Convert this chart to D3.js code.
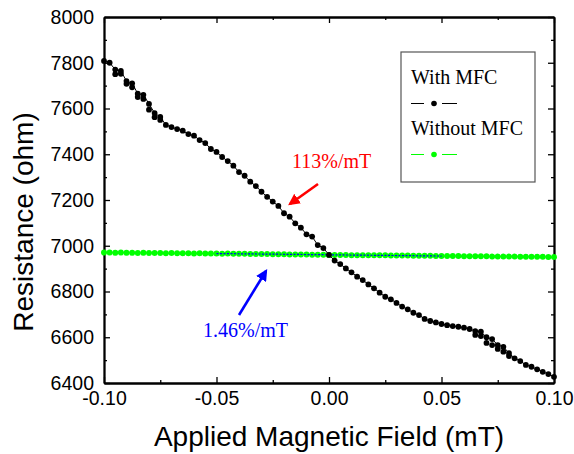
<!DOCTYPE html>
<html>
<head>
    <meta charset="utf-8">
    <title>Resistance vs Field</title>
    <script src="https://d3js.org/d3.v7.min.js"></script>
    <style>
        body { margin: 0; background: #fff; }
    </style>
</head>
<body>
    <script>
        // Field values (mT), one every 0.0025
        const fieldWith = [-0.1000, -0.0975, -0.0950, -0.0925, -0.0900, -0.0875, -0.0850, -0.0825, -0.0800, -0.0775,
            -0.0750, -0.0725, -0.0700, -0.0675, -0.0650, -0.0625, -0.0600, -0.0575, -0.0550, -0.0525,
            -0.0500, -0.0475, -0.0450, -0.0425, -0.0400, -0.0375, -0.0350, -0.0325, -0.0300, -0.0275,
            -0.0250, -0.0225, -0.0200, -0.0175, -0.0150, -0.0125, -0.0100, -0.0075, -0.0050, -0.0025,
            0.0000, 0.0025, 0.0050, 0.0075, 0.0100, 0.0125, 0.0150, 0.0175, 0.0200, 0.0225,
            0.0250, 0.0275, 0.0300, 0.0325, 0.0350, 0.0375, 0.0400, 0.0425, 0.0450, 0.0475,
            0.0500, 0.0525, 0.0550, 0.0575, 0.0600, 0.0625, 0.0650, 0.0675, 0.0700, 0.0725,
            0.0750, 0.0775, 0.0800, 0.0825, 0.0850, 0.0875, 0.0900, 0.0925, 0.0950, 0.0975, 0.1000];

        // Resistance with MFC (ohm)
        const resWith = [7808, 7800, 7770, 7764, 7720, 7710, 7665, 7660, 7620, 7580,
            7563, 7528, 7519, 7510, 7503, 7488, 7481, 7462, 7449, 7423,
            7410, 7388, 7370, 7350, 7322, 7306, 7280, 7261, 7236, 7214,
            7193, 7174, 7142, 7127, 7098, 7079, 7050, 7040, 7003, 6990,
            6960, 6935, 6920, 6901, 6884, 6865, 6850, 6831, 6814, 6795,
            6777, 6766, 6750, 6734, 6722, 6707, 6697, 6680, 6671, 6665,
            6658, 6653, 6649, 6646, 6642, 6636, 6627, 6624, 6600, 6592,
            6566, 6558, 6531, 6508, 6496, 6479, 6471, 6460, 6449, 6439, 6427];

        // Repeated readings (with MFC) where the sweep shows two points
        const fieldWithRepeat = [-0.0950, -0.0925, -0.0900, -0.0875, -0.0850, -0.0825, -0.0800, -0.0775, -0.0750,
            0.0650, 0.0675, 0.0700, 0.0725, 0.0750, 0.0775, 0.0800];
        const resWithRepeat = [7750, 7752, 7708, 7693, 7650, 7642, 7595, 7562, 7550,
            6610, 6605, 6575, 6566, 6549, 6537, 6518];

        // Resistance without MFC (ohm)
        const resWithout = [6970, 6970, 6969, 6970, 6969, 6969, 6968, 6969, 6968, 6968,
            6968, 6967, 6968, 6967, 6967, 6967, 6966, 6967, 6966, 6966,
            6966, 6965, 6966, 6965, 6965, 6965, 6964, 6964, 6964, 6964,
            6963, 6963, 6963, 6962, 6962, 6962, 6962, 6961, 6961, 6961,
            6960, 6960, 6960, 6960, 6959, 6959, 6959, 6958, 6958, 6958,
            6958, 6957, 6957, 6957, 6957, 6956, 6956, 6956, 6956, 6955,
            6955, 6955, 6955, 6955, 6954, 6954, 6954, 6954, 6954, 6953,
            6953, 6953, 6953, 6953, 6952, 6952, 6952, 6952, 6952, 6951, 6951];

        // Linear fit of the flat curve over -0.05..0.05
        const fitField = [-0.05, 0.05];
        const fitRes = [6966, 6955];

        const xTicks = [-0.10, -0.05, 0.00, 0.05, 0.10];
        const xTickLabels = ["-0.10", "-0.05", "0.00", "0.05", "0.10"];
        const xMinor = [-0.075, -0.025, 0.025, 0.075];
        const yTicks = [6400, 6600, 6800, 7000, 7200, 7400, 7600, 7800, 8000];
        const yMinor = [6500, 6700, 6900, 7100, 7300, 7500, 7700, 7900];

        const seriesNames = ["With MFC", "Without MFC"];
        const slopeLabels = ["113%/mT", "1.46%/mT"];

        const W = 574, H = 454;
        const plotLeft = 104, plotRight = 554, plotTop = 17, plotBottom = 383;

        const svg = d3.select("body").append("svg")
            .attr("width", W)
            .attr("height", H)
            .style("font-family", "'Liberation Sans', Arial, sans-serif");

        const x = d3.scaleLinear().domain([-0.1, 0.1]).range([plotLeft, plotRight]);
        const y = d3.scaleLinear().domain([6400, 8000]).range([plotBottom, plotTop]);

        // Axes with inward ticks
        function styleAxis(g) {
            g.select(".domain").attr("stroke", "#000").attr("stroke-width", 1.8);
            g.selectAll(".tick line").attr("stroke", "#000").attr("stroke-width", 1.3);
        }

        svg.append("g")
            .attr("transform", `translate(0,${plotBottom})`)
            .call(d3.axisBottom(x).tickValues(xTicks).tickSize(-6).tickSizeOuter(0).tickPadding(8)
                .tickFormat((d, i) => xTickLabels[i]))
            .call(styleAxis)
            .call(g => g.selectAll("text").attr("font-size", 19.5).attr("fill", "#000")
                .attr("font-family", "'Liberation Sans', Arial, sans-serif"));
        svg.append("g")
            .attr("transform", `translate(0,${plotBottom})`)
            .call(d3.axisBottom(x).tickValues(xMinor).tickSize(-3).tickSizeOuter(0).tickFormat(""))
            .call(styleAxis);

        svg.append("g")
            .attr("transform", `translate(0,${plotTop})`)
            .call(d3.axisTop(x).tickValues(xTicks).tickSize(-6).tickSizeOuter(0).tickFormat(""))
            .call(styleAxis);
        svg.append("g")
            .attr("transform", `translate(0,${plotTop})`)
            .call(d3.axisTop(x).tickValues(xMinor).tickSize(-3).tickSizeOuter(0).tickFormat(""))
            .call(styleAxis);

        svg.append("g")
            .attr("transform", `translate(${plotLeft},0)`)
            .call(d3.axisLeft(y).tickValues(yTicks).tickSize(-6).tickSizeOuter(0).tickPadding(10)
                .tickFormat(d3.format("d")))
            .call(styleAxis)
            .call(g => g.selectAll("text").attr("font-size", 19.5).attr("fill", "#000")
                .attr("font-family", "'Liberation Sans', Arial, sans-serif"));
        svg.append("g")
            .attr("transform", `translate(${plotLeft},0)`)
            .call(d3.axisLeft(y).tickValues(yMinor).tickSize(-3).tickSizeOuter(0).tickFormat(""))
            .call(styleAxis);

        svg.append("g")
            .attr("transform", `translate(${plotRight},0)`)
            .call(d3.axisRight(y).tickValues(yTicks).tickSize(-6).tickSizeOuter(0).tickFormat(""))
            .call(styleAxis);
        svg.append("g")
            .attr("transform", `translate(${plotRight},0)`)
            .call(d3.axisRight(y).tickValues(yMinor).tickSize(-3).tickSizeOuter(0).tickFormat(""))
            .call(styleAxis);

        // Axis titles
        svg.append("text")
            .attr("x", 329)
            .attr("y", 446)
            .attr("text-anchor", "middle")
            .attr("font-size", 28)
            .text("Applied Magnetic Field (mT)");

        svg.append("text")
            .attr("transform", "translate(33,222) rotate(-90)")
            .attr("text-anchor", "middle")
            .attr("font-size", 28)
            .text("Resistance (ohm)");

        // Data
        const line = d3.line().x(d => x(d[0])).y(d => y(d[1]));
        const withPts = fieldWith.map((f, i) => [f, resWith[i]]);
        const withoutPts = fieldWith.map((f, i) => [f, resWithout[i]]);
        const repeatPts = fieldWithRepeat.map((f, i) => [f, resWithRepeat[i]]);

        svg.append("path").datum(withoutPts)
            .attr("d", line).attr("fill", "none").attr("stroke", "#00ff00").attr("stroke-width", 1);
        svg.selectAll(".dot-without").data(withoutPts).enter().append("circle")
            .attr("class", "dot-without")
            .attr("cx", d => x(d[0])).attr("cy", d => y(d[1])).attr("r", 3)
            .attr("fill", "#00ff00");

        svg.append("path").datum(fitField.map((f, i) => [f, fitRes[i]]))
            .attr("d", line).attr("fill", "none").attr("stroke", "#0000ff")
            .attr("stroke-width", 1.2).attr("stroke-dasharray", "2,1.5");

        svg.append("path").datum(withPts)
            .attr("d", line).attr("fill", "none").attr("stroke", "#000").attr("stroke-width", 1);
        svg.selectAll(".dot-with").data(withPts.concat(repeatPts)).enter().append("circle")
            .attr("class", "dot-with")
            .attr("cx", d => x(d[0])).attr("cy", d => y(d[1])).attr("r", 2.9)
            .attr("fill", "#000");

        // Slope annotations
        const defs = svg.append("defs");
        ["red", "blue"].forEach(c => {
            defs.append("marker")
                .attr("id", "head-" + c)
                .attr("viewBox", "0 0 10 10")
                .attr("refX", 8).attr("refY", 5)
                .attr("markerWidth", 4.5).attr("markerHeight", 4.5)
                .attr("orient", "auto")
                .append("path").attr("d", "M0,0 L10,5 L0,10 z")
                .attr("fill", c === "red" ? "#ff0000" : "#0000ff");
        });

        svg.append("line")
            .attr("x1", 318).attr("y1", 184).attr("x2", 290).attr("y2", 204)
            .attr("stroke", "#ff0000").attr("stroke-width", 2.6)
            .attr("marker-end", "url(#head-red)");
        svg.append("text")
            .attr("x", 292).attr("y", 168)
            .attr("font-family", "'Liberation Serif', 'Times New Roman', serif")
            .attr("font-size", 20).attr("fill", "#ff0000")
            .text(slopeLabels[0]);

        svg.append("line")
            .attr("x1", 239).attr("y1", 315).attr("x2", 266).attr("y2", 271)
            .attr("stroke", "#0000ff").attr("stroke-width", 2.6)
            .attr("marker-end", "url(#head-blue)");
        svg.append("text")
            .attr("x", 203).attr("y", 337)
            .attr("font-family", "'Liberation Serif', 'Times New Roman', serif")
            .attr("font-size", 20).attr("fill", "#0000ff")
            .text(slopeLabels[1]);

        // Legend
        const legend = svg.append("g");
        legend.append("rect")
            .attr("x", 401).attr("y", 52).attr("width", 134).attr("height", 130)
            .attr("fill", "#fff").attr("stroke", "#555").attr("stroke-width", 1.2);

        const legendColors = ["#000", "#00ff00"];
        seriesNames.forEach((name, i) => {
            const base = 84 + i * 51;
            legend.append("text")
                .attr("x", 411).attr("y", base)
                .attr("font-family", "'Liberation Serif', 'Times New Roman', serif")
                .attr("font-size", 20).attr("fill", "#000")
                .text(name);
            const sy = base + 19.5;
            legend.append("line").attr("x1", 411).attr("x2", 424).attr("y1", sy).attr("y2", sy)
                .attr("stroke", legendColors[i]).attr("stroke-width", 1);
            legend.append("line").attr("x1", 442).attr("x2", 457).attr("y1", sy).attr("y2", sy)
                .attr("stroke", legendColors[i]).attr("stroke-width", 1);
            legend.append("circle").attr("cx", 434).attr("cy", sy).attr("r", 2.8)
                .attr("fill", legendColors[i]);
        });
    </script>
</body>
</html>
